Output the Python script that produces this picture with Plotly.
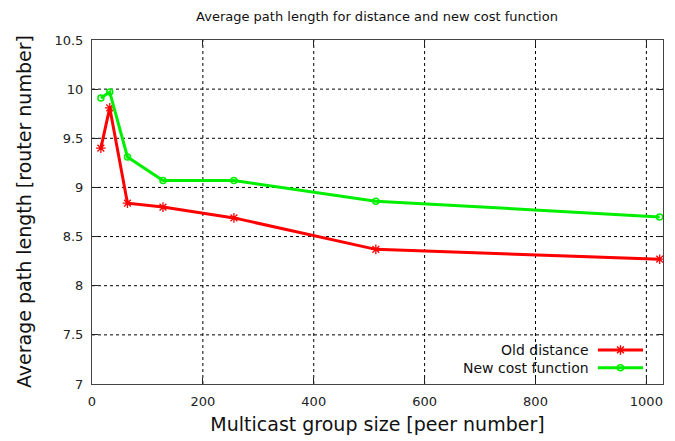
import plotly.graph_objects as go

group_size = [16, 32, 64, 128, 256, 512, 1024]
old_distance = [9.40, 9.81, 8.84, 8.80, 8.69, 8.37, 8.27]
new_cost = [9.91, 9.97, 9.31, 9.07, 9.07, 8.86, 8.70]

x_ticks = [0, 200, 400, 600, 800, 1000]
y_ticks = [7, 7.5, 8, 8.5, 9, 9.5, 10, 10.5]
y_tick_text = ["7", "7.5", "8", "8.5", "9", "9.5", "10", "10.5"]

RED = "#ff0000"
GREEN = "#00ee00"
FONT = "DejaVu Sans"

# page has an 8px body margin: figure is offset by (8, 8)
W, H = 667, 433

fig = go.Figure()
fig.add_trace(go.Scatter(x=group_size, y=old_distance, mode="lines+markers",
                         name="Old distance",
                         line=dict(color=RED, width=3),
                         marker=dict(symbol="asterisk-open", size=8,
                                     line=dict(color=RED, width=1.3))))
fig.add_trace(go.Scatter(x=group_size, y=new_cost, mode="lines+markers",
                         name="New cost function",
                         line=dict(color=GREEN, width=3),
                         marker=dict(symbol="circle-open", size=6,
                                     line=dict(color=GREEN, width=1.5))))

axis_common = dict(showgrid=False, zeroline=False, showline=True, mirror="ticks",
                   linecolor="#444444", linewidth=1, ticks="inside", ticklen=6,
                   tickcolor="#222222", automargin=False,
                   tickfont=dict(family=FONT, size=13, color="#222222"))

fig.update_xaxes(range=[0, 1030], tickvals=x_ticks, ticklabelstandoff=5,
                 title=dict(text="Multicast group size [peer number]",
                            font=dict(family=FONT, size=19, color="#111111"), standoff=10),
                 **axis_common)
fig.update_yaxes(range=[7, 10.5], tickvals=y_ticks, ticktext=y_tick_text,
                 ticklabelstandoff=5, **axis_common)

shapes = []
for xv in x_ticks[1:]:
    shapes.append(dict(type="line", xref="x", yref="paper", x0=xv, x1=xv, y0=0, y1=1,
                       line=dict(color="#000000", width=1, dash="3px,3px"), layer="below"))
for yv in y_ticks[1:-1]:
    shapes.append(dict(type="line", xref="paper", yref="y", x0=0, x1=1, y0=yv, y1=yv,
                       line=dict(color="#000000", width=1, dash="3px,3px"), layer="below"))

annotations = [dict(xref="paper", yref="paper", x=-0.119, y=0.5,
                    text="Average path length [router number]", textangle=-90,
                    showarrow=False, xanchor="center", yanchor="middle",
                    font=dict(family=FONT, size=19, color="#111111"))]

# manual gnuplot-style legend (text left of sample)
legend_items = [("Old distance", RED, "asterisk-open", 8, 0.099),
                ("New cost function", GREEN, "circle-open", 6, 0.047)]
for label, col, sym, sz, yp in legend_items:
    shapes.append(dict(type="line", xref="paper", yref="paper", x0=0.886, x1=0.965,
                       y0=yp, y1=yp, line=dict(color=col, width=3)))
    annotations.append(dict(xref="paper", yref="paper", x=0.874, y=yp, text=label,
                            showarrow=False, xanchor="right", yanchor="middle",
                            font=dict(family=FONT, size=14, color="#111111")))
    fig.add_trace(go.Scatter(x=[0.9255], y=[yp], xaxis="x2", yaxis="y2", mode="markers",
                             showlegend=False, hoverinfo="skip",
                             marker=dict(symbol=sym, size=sz, color=col,
                                         line=dict(color=col, width=1.5))))

fig.update_layout(
    width=W, height=H,
    margin=dict(l=84, r=12, t=32, b=57),
    paper_bgcolor="white", plot_bgcolor="white",
    showlegend=False,
    title=dict(text="Average path length for distance and new cost function",
               x=(377 - 8) / W, xanchor="center", y=1 - 4 / H, yanchor="top",
               automargin=False, pad=dict(t=0, b=0, l=0, r=0),
               font=dict(family=FONT, size=13, color="#111111")),
    xaxis2=dict(overlaying="x", range=[0, 1], visible=False),
    yaxis2=dict(overlaying="y", range=[0, 1], visible=False),
    shapes=shapes, annotations=annotations,
)

fig.write_html("out.html")
